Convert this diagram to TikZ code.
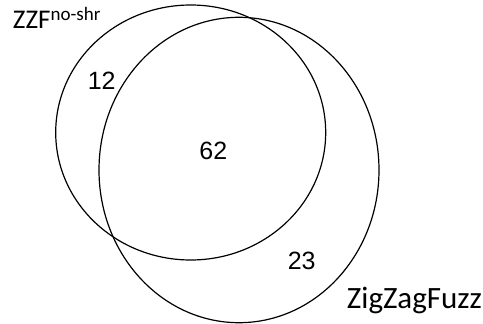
\documentclass[tikz,border=0pt]{standalone}
\usepackage{fontspec}
\setmainfont{Liberation Sans}
\newfontfamily\lblfont{Carlito}
\usepackage{tikz}
\usetikzlibrary{positioning}

\begin{document}
\begin{tikzpicture}[
x=1pt,y=-1pt,
setring/.style={draw=black,line width=1.2pt},
lbl/.style={inner sep=0pt,anchor=base west,font=\lblfont\fontsize{27}{27}\selectfont},
biglbl/.style={inner sep=0pt,anchor=base west,font=\lblfont\fontsize{31}{31}\selectfont},
num/.style={inner sep=0pt,font=\fontsize{25}{25}\selectfont}
]
\useasboundingbox (0,0) rectangle (483,324);
% the two sets
\draw[setring] (190.7,132.5) ellipse [x radius=135,y radius=127.5];
\draw[setring] (239,170) ellipse [x radius=140,y radius=152.7];
% set names
\node[lbl] (zzf) at (12.7,28.5) {ZZF\raisebox{8pt}{\fontsize{19}{19}\selectfont no-shr}};
\node[biglbl] (zzfuzz) at (346.7,308.3) {ZigZagFuzz};
% counts
\node[num] (only1) at (101.7,80.5) {12};
\node[num] (both) at (213.3,151.3) {62};
\node[num] (only2) at (301.7,261) {23};
\end{tikzpicture}
\end{document}
